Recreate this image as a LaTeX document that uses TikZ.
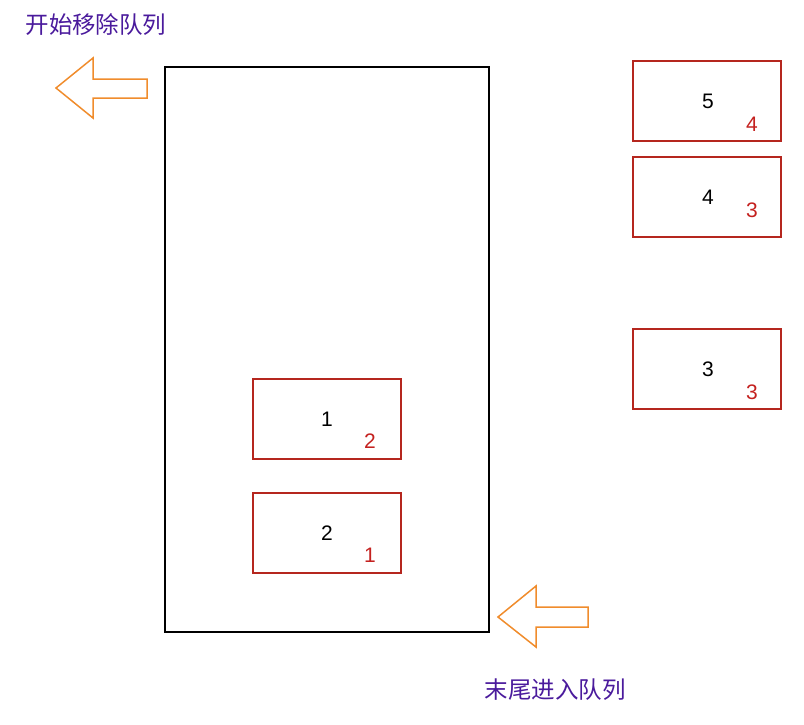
\documentclass[tikz,border=0pt]{standalone}
\usepackage{fontspec}
\setmainfont{Liberation Sans}
\newfontfamily\cjk{Noto Sans CJK SC}
\definecolor{boxred}{HTML}{B5261E}
\definecolor{numred}{HTML}{C4211F}
\definecolor{arrorange}{HTML}{F08C2C}
\definecolor{txtpurple}{HTML}{4A1A9C}
\begin{document}
\begin{tikzpicture}[x=1pt,y=-1pt,
  itembox/.style={draw=boxred,line width=1.5pt,minimum width=148pt,minimum height=80pt,inner sep=0pt},
  mainnum/.style={font=\fontsize{21}{21}\selectfont,text=black},
  subnum/.style={font=\fontsize{21}{21}\selectfont,text=numred},
  cnlabel/.style={font=\cjk\fontsize{23.5}{23.5}\selectfont,text=txtpurple},
  blockarrow/.style={draw=arrorange,line width=1.5pt,line join=miter}]
\useasboundingbox (0,0) rectangle (804,724);
% queue container
\draw[line width=1.5pt] (165,67) rectangle (489,632);
% items inside queue
\node[itembox] (b1) at (327,419) {};
\node[mainnum] (b1n) at (327,419) {1};
\node[subnum] (b1s) at (370,441) {2};
\node[itembox] (b2) at (327,533) {};
\node[mainnum] (b2n) at (327,533) {2};
\node[subnum] (b2s) at (370,555) {1};
% items outside
\node[itembox] (r5) at (707,101) {};
\node[mainnum] (r5n) at (708,101) {5};
\node[subnum] (r5s) at (752,124) {4};
\node[itembox] (r4) at (707,197) {};
\node[mainnum] (r4n) at (708,197) {4};
\node[subnum] (r4s) at (752,210) {3};
\node[itembox] (r3) at (707,369) {};
\node[mainnum] (r3n) at (708,369) {3};
\node[subnum] (r3s) at (752,392) {3};
% arrows
\draw[blockarrow] (56,88) -- (93,58) -- (93,79) -- (147,79) -- (147,98) -- (93,98) -- (93,118) -- cycle;
\draw[blockarrow] (498,617) -- (536,586) -- (536,607) -- (588,607) -- (588,627) -- (536,627) -- (536,647) -- cycle;
% labels
\node[cnlabel] (top) at (96,25) {开始移除队列};
\node[cnlabel] (bot) at (555,690) {末尾进入队列};
\end{tikzpicture}
\end{document}
